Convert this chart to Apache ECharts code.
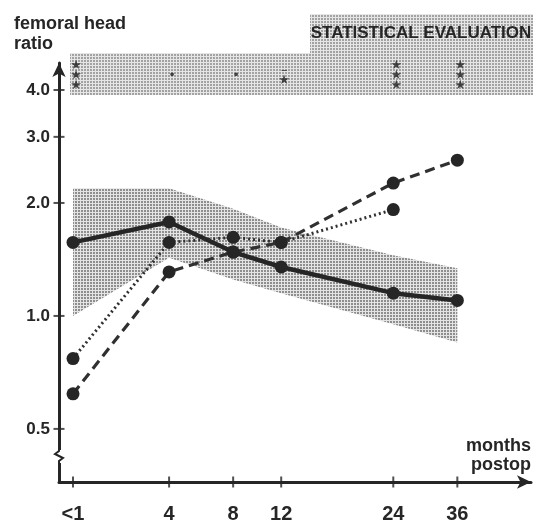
<!DOCTYPE html>
<html>
<head>
<meta charset="utf-8">
<script src="https://cdn.jsdelivr.net/npm/echarts@6/dist/echarts.min.js"></script>
<style>
html,body{margin:0;padding:0;background:#fff;}
#chart{width:543px;height:524px;}
</style>
</head>
<body>
<div id="chart"></div>
<script>
// ---- data ----
var months = ['<1', '4', '8', '12', '24', '36'];
var xSlots = [0, 6, 10, 13, 20, 24];           // spacing of the drawn time axis
var yTicks = [0.5, 1, 2, 3, 4];
var solid  = [1.57, 1.78, 1.48, 1.35, 1.15, 1.10];
var dotted = [0.77, 1.57, 1.62, 1.57, 1.92, null];
var dashed = [0.62, 1.31, 1.48, 1.57, 2.26, 2.60];
var bandUpper = [2.19, 2.19, 1.93, 1.72, 1.45, 1.34];
var bandLower = [1.00, 1.43, 1.25, 1.15, 0.95, 0.85];
var sig = ['★\n★\n★', '•', '•', '–\n★', '★\n★\n★', '★\n★\n★'];
var sigLevel = 4.36;

var X_MIN = -0.875, X_MAX = 28.6, Y_MIN = 0.361, Y_MAX = 4.72;

function makePattern(bg, dot) {
  var c = document.createElement('canvas');
  c.width = 3; c.height = 3;
  var g = c.getContext('2d');
  g.fillStyle = bg; g.fillRect(0, 0, 3, 3);
  g.fillStyle = dot; g.fillRect(0, 0, 2, 2);
  return { image: c, repeat: 'repeat' };
}
var bandFill = makePattern('#e4e4e4', '#8e8e8e');
var boxFill = makePattern('#e6e6e6', '#a2a2a2');

function pairs(arr) {
  var out = [];
  arr.forEach(function (v, i) { if (v != null) out.push([xSlots[i], v]); });
  return out;
}

var ink = '#262626';
var font = "'Liberation Sans', Arial, sans-serif";

var chart = echarts.init(document.getElementById('chart'));
var option = {
  animation: false,
  grid: { left: 59, right: 12, top: 63, bottom: 42 },
  xAxis: {
    type: 'value', min: X_MIN, max: X_MAX,
    axisLine: { onZero: false, lineStyle: { color: ink, width: 3 }, symbol: ['none', 'arrow'], symbolSize: [10, 14] },
    axisTick: { show: false },
    axisLabel: { customValues: xSlots, formatter: function (v) { return months[xSlots.indexOf(v)]; },
      margin: 22, fontSize: 20, fontWeight: 'bold', color: ink, fontFamily: font },
    splitLine: { show: false }
  },
  yAxis: {
    type: 'log', logBase: 2, min: Y_MIN, max: Y_MAX,
    axisLine: { show: true, onZero: false, lineStyle: { color: ink, width: 3 }, symbol: ['none', 'arrow'], symbolSize: [10, 14] },
    axisTick: { show: false },
    axisLabel: { customValues: yTicks, formatter: function (v) { return (+v).toFixed(1); },
      margin: 9, fontSize: 17, fontWeight: 'bold', color: ink, fontFamily: font },
    splitLine: { show: false }, minorTick: { show: false }
  },
  series: [{
    type: 'custom', silent: true, z: 1,
    data: [[xSlots[0], bandLower[0]]],
    renderItem: function (params, api) {
      var up = xSlots.map(function (x, i) { return api.coord([x, bandUpper[i]]); });
      var lo = xSlots.map(function (x, i) { return api.coord([x, bandLower[i]]); }).reverse();
      return { type: 'polygon', shape: { points: up.concat(lo) }, style: { fill: bandFill } };
    }
  }, {
    type: 'line', z: 3, data: pairs(solid), symbol: 'circle', symbolSize: 13,
    lineStyle: { color: ink, width: 4.5 }, itemStyle: { color: ink }
  }, {
    type: 'line', z: 4, data: pairs(dotted), symbol: 'circle', symbolSize: 13,
    lineStyle: { color: '#303030', width: 3, type: [2, 3] }, itemStyle: { color: ink }
  }, {
    type: 'line', z: 5, data: pairs(dashed), symbol: 'circle', symbolSize: 13,
    lineStyle: { color: '#303030', width: 3.2, type: [10, 6] }, itemStyle: { color: ink }
  }, {
    type: 'scatter', z: 6, silent: true, symbolSize: 1, itemStyle: { color: 'rgba(0,0,0,0)' },
    data: xSlots.map(function (x) { return [x, sigLevel]; }),
    label: { show: true, position: 'inside', offset: [3, 0], formatter: function (p) { return sig[p.dataIndex]; },
      fontSize: 13, lineHeight: 10, color: '#1e1e1e', fontFamily: "'DejaVu Sans', sans-serif" }
  }, {
    // tick marks crossing the y axis
    type: 'scatter', z: 7, silent: true, clip: false, symbol: 'rect', symbolSize: [11, 2],
    itemStyle: { color: ink },
    data: yTicks.map(function (v) { return [X_MIN, v]; })
  }, {
    // tick marks crossing the x axis
    type: 'scatter', z: 7, silent: true, clip: false, symbol: 'rect', symbolSize: [2, 11],
    itemStyle: { color: ink },
    data: xSlots.map(function (x) { return [x, Y_MIN]; })
  }],
  graphic: [{
    type: 'polygon', z: 0, silent: true,
    shape: { points: [[70, 53], [310, 53], [310, 14], [533, 14], [533, 95], [70, 95]] },
    style: { fill: boxFill }
  }, {
    type: 'text', z: 10, style: { text: 'STATISTICAL EVALUATION', x: 421, y: 33, textAlign: 'center', textVerticalAlign: 'middle',
      font: "bold 17px 'Liberation Sans', Arial, sans-serif", fill: ink }
  }, {
    type: 'text', z: 10, style: { text: 'femoral head\nratio', x: 14, y: 14, lineHeight: 20,
      font: "bold 18px 'Liberation Sans', Arial, sans-serif", fill: ink }
  }, {
    type: 'text', z: 10, style: { text: 'months\npostop', x: 531, y: 437, textAlign: 'right', lineHeight: 19,
      font: "bold 18px 'Liberation Sans', Arial, sans-serif", fill: ink }
  }, {
    type: 'rect', z: 20, silent: true, shape: { x: 54, y: 450, width: 10, height: 13 }, style: { fill: '#fff' }
  }, {
    type: 'polyline', z: 21, silent: true,
    shape: { points: [[59, 448], [59, 451], [55, 454], [63, 458], [59, 461], [59, 465]] },
    style: { stroke: ink, lineWidth: 2, fill: null }
  }]
};
chart.setOption(option);
</script>
</body>
</html>
